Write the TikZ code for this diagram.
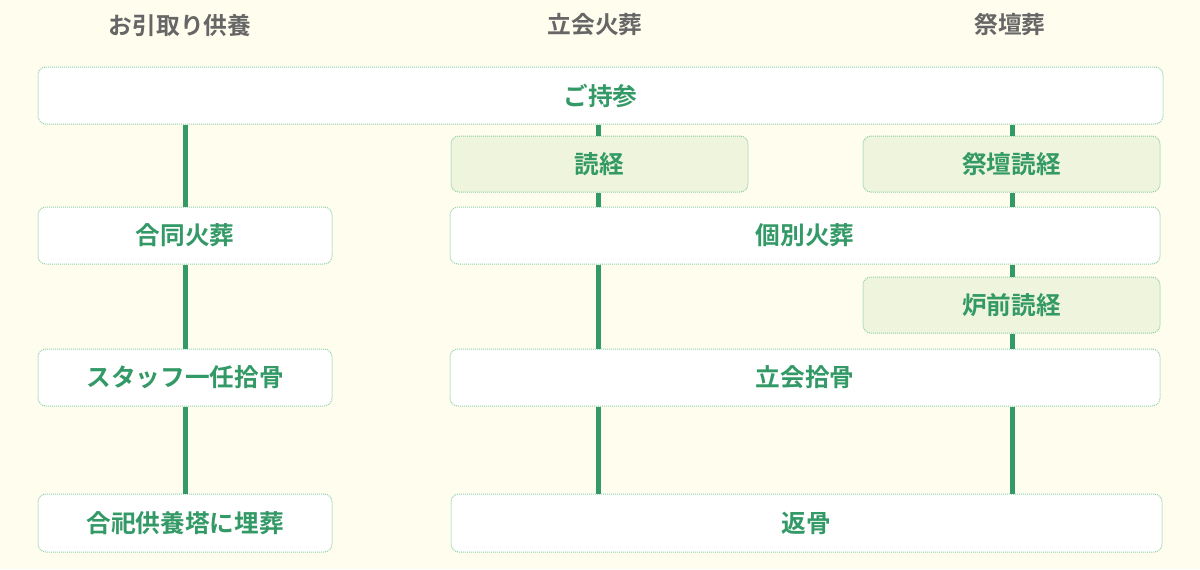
\documentclass[tikz,border=0pt]{standalone}
\usepackage{fontspec}
\setmainfont{Noto Sans CJK JP}[BoldFont={Noto Sans CJK JP Bold}]
\definecolor{bgc}{HTML}{FFFDEE}
\definecolor{grn}{HTML}{339966}
\definecolor{brd}{HTML}{8ED1A8}
\definecolor{lfill}{HTML}{EEF5DC}
\definecolor{hdr}{HTML}{666666}
\tikzset{
  box/.style={draw=brd, line width=0.75pt, dash pattern=on 0.75pt off 0.75pt,
    rounded corners=6pt, fill=white, inner sep=0pt, text=grn,
    font=\bfseries\fontsize{18.5}{22}\selectfont},
  lbox/.style={box, fill=lfill},
  hdrtext/.style={text=hdr, font=\bfseries\fontsize{17.8}{21}\selectfont, inner sep=0pt},
  conn/.style={draw=grn, line width=3.75pt},
}
\newcommand{\bx}[6]{% style, name, cx, cy, w, h, text
  \node[#1, minimum width=#5*0.75pt, minimum height=#6*0.75pt] (#2) at (#3,#4)}
\newcommand{\lw}[1]{\raisebox{-1.5pt}{#1}}
\begin{document}
\begin{tikzpicture}[x=0.75pt, y=-0.75pt]
\fill[bgc] (0,0) rectangle (1200,569);
\useasboundingbox (0,0) rectangle (1200,569);
% headers
\node[hdrtext] (h1) at (180,25) {お引取り供養};
\node[hdrtext] (h2) at (595,25) {立会火葬};
\node[hdrtext] (h3) at (1010,25) {祭壇葬};
% columns
\coordinate (cL) at (185,0);
\coordinate (cM) at (598,0);
\coordinate (cR) at (1012,0);
% boxes
\bx{box}{jisan}{600.5}{95.5}{1125}{57} {\lw{ご持参}};
\bx{lbox}{dokyo}{599.5}{164}{297}{56} {\lw{読経}};
\bx{lbox}{saidan}{1011.5}{164}{297}{56} {\lw{祭壇読経}};
\bx{box}{godo}{185}{235.5}{294}{57} {\lw{合同火葬}};
\bx{box}{kobetsu}{805}{235.5}{710}{57} {\lw{個別火葬}};
\bx{lbox}{rozen}{1011.5}{305}{297}{56} {\lw{炉前読経}};
\bx{box}{staff}{185}{377.5}{294}{57} {\lw{スタッフ一任拾骨}};
\bx{box}{tachiai}{805}{377.5}{710}{57} {\lw{立会拾骨}};
\bx{box}{maiso}{185}{523}{294}{58} {\lw{合祀供養塔に埋葬}};
\bx{box}{henkotsu}{806.5}{523}{711}{58} {\lw{返骨}};
% connectors left
\draw[conn] (jisan.south -| cL) -- (godo.north -| cL);
\draw[conn] (godo.south -| cL) -- (staff.north -| cL);
\draw[conn] (staff.south -| cL) -- (maiso.north -| cL);
% middle
\draw[conn] (jisan.south -| cM) -- (dokyo.north -| cM);
\draw[conn] (dokyo.south -| cM) -- (kobetsu.north -| cM);
\draw[conn] (kobetsu.south -| cM) -- (tachiai.north -| cM);
\draw[conn] (tachiai.south -| cM) -- (henkotsu.north -| cM);
% right
\draw[conn] (jisan.south -| cR) -- (saidan.north -| cR);
\draw[conn] (saidan.south -| cR) -- (kobetsu.north -| cR);
\draw[conn] (kobetsu.south -| cR) -- (rozen.north -| cR);
\draw[conn] (rozen.south -| cR) -- (tachiai.north -| cR);
\draw[conn] (tachiai.south -| cR) -- (henkotsu.north -| cR);
\end{tikzpicture}
\end{document}
